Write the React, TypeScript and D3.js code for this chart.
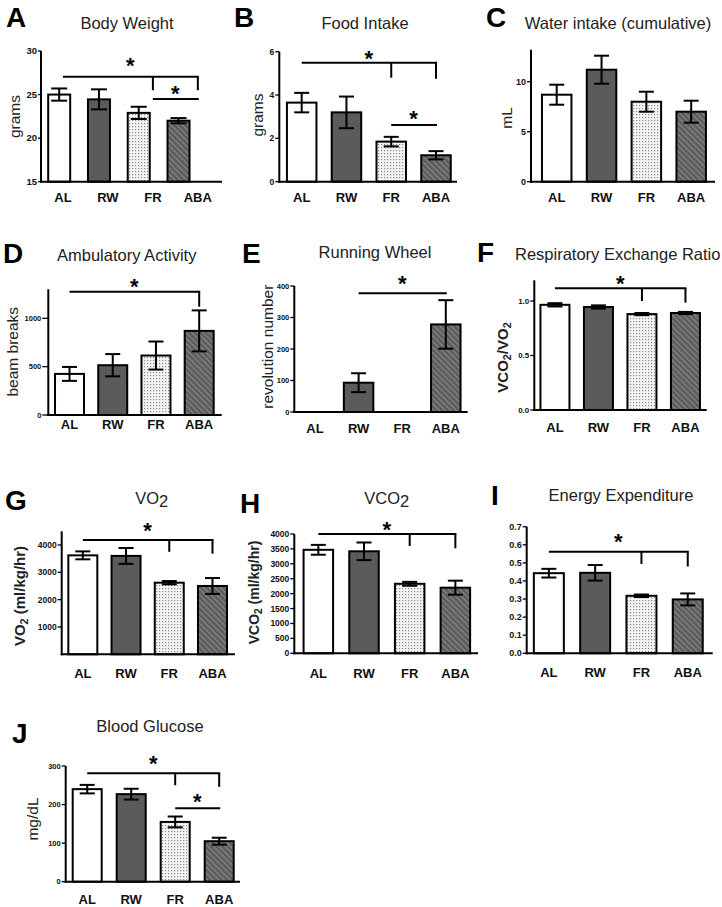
import React from 'react';
import * as d3 from 'd3';

const groups = ['AL', 'RW', 'FR', 'ABA'];

// ---- data (means and SEM) ----
const bodyWeight = [25.0, 24.45, 22.9, 22.0];
const bodyWeightErr = [0.7, 1.15, 0.7, 0.3];
const foodIntake = [3.65, 3.2, 1.85, 1.22];
const foodIntakeErr = [0.45, 0.73, 0.22, 0.19];
const waterIntake = [8.7, 11.2, 8.0, 7.0];
const waterIntakeErr = [1.0, 1.4, 1.0, 1.1];
const ambulatory = [425, 515, 615, 870];
const ambulatoryErr = [72, 115, 145, 212];
const runningWheel = [0, 93, 0, 278];
const runningWheelErr = [0, 30, 0, 77];
const rer = [0.965, 0.945, 0.88, 0.89];
const rerErr = [0.015, 0.015, 0.01, 0.01];
const vo2 = [3620, 3600, 2620, 2500];
const vo2Err = [145, 290, 60, 290];
const vco2 = [3470, 3420, 2330, 2200];
const vco2Err = [165, 295, 65, 235];
const energy = [0.443, 0.445, 0.318, 0.298];
const energyErr = [0.024, 0.043, 0.007, 0.033];
const glucose = [240, 227, 155, 105];
const glucoseErr = [11, 14, 14, 9];

// ---- tick values ----
const ticksA = [15, 20, 25, 30];
const ticksB = [0, 2, 4, 6];
const ticksC = [0, 5, 10];
const ticksD = [0, 500, 1000];
const ticksE = [0, 100, 200, 300, 400];
const ticksF = [0, 0.5, 1.0];
const ticksG = [1000, 2000, 3000, 4000];
const ticksH = [0, 500, 1000, 1500, 2000, 2500, 3000, 3500, 4000];
const ticksI = [0, 0.1, 0.2, 0.3, 0.4, 0.5, 0.6, 0.7];
const ticksJ = [0, 100, 200, 300];

// ---- significance brackets (data units) ----
type Bracket = { from: string; to: string; level: number; drops: { at: string; to: number }[]; star: number };
const sigA: Bracket[] = [
  { from: 'AL', to: 'ABA', level: 27.05, drops: [{ at: 'FR', to: 25.5 }, { at: 'ABA', to: 25.5 }], star: 28.97 },
  { from: 'FR', to: 'ABA', level: 24.5, drops: [], star: 25.72 },
];
const sigB: Bracket[] = [
  { from: 'AL', to: 'ABA', level: 5.49, drops: [{ at: 'FR', to: 4.8 }, { at: 'ABA', to: 4.75 }], star: 5.94 },
  { from: 'FR', to: 'ABA', level: 2.62, drops: [], star: 3.17 },
];
const sigD: Bracket[] = [{ from: 'AL', to: 'ABA', level: 1275, drops: [{ at: 'ABA', to: 1120 }], star: 1378 }];
const sigE: Bracket[] = [{ from: 'RW', to: 'ABA', level: 377, drops: [], star: 425 }];
const sigF: Bracket[] = [
  { from: 'AL', to: 'ABA', level: 1.117, drops: [{ at: 'FR', to: 1.0 }, { at: 'ABA', to: 0.985 }], star: 1.208 },
];
const sigG: Bracket[] = [
  { from: 'AL', to: 'ABA', level: 4182, drops: [{ at: 'FR', to: 3750 }, { at: 'ABA', to: 3680 }], star: 4731 },
];
const sigH: Bracket[] = [
  { from: 'AL', to: 'ABA', level: 4000, drops: [{ at: 'FR', to: 3597 }, { at: 'ABA', to: 3520 }], star: 4335 },
];
const sigI: Bracket[] = [
  { from: 'AL', to: 'ABA', level: 0.5617, drops: [{ at: 'FR', to: 0.494 }, { at: 'ABA', to: 0.48 }], star: 0.648 },
];
const sigJ: Bracket[] = [
  { from: 'AL', to: 'ABA', level: 281, drops: [{ at: 'FR', to: 250 }, { at: 'ABA', to: 246 }], star: 320 },
  { from: 'FR', to: 'ABA', level: 190.3, drops: [], star: 220.4 },
];

const FONT = '"Liberation Sans", Arial, Helvetica, sans-serif';
const fills = ['#ffffff', '#5b5b5b', 'url(#dots)', 'url(#hatch)'];

type Title = { text: string; sub?: string };
type PanelCfg = {
  letter: string; letterPos: [number, number];
  title: Title; titlePos: [number, number];
  axisX: number; xEnd: number;
  yRange: [number, number]; domain: [number, number];
  ticks: number[]; fmt?: string; tickFs: number; tickLen?: number;
  band: [number, number]; labelBand?: [number, number]; barW: number; capW?: number;
  xLabelY: number;
  ylabel?: { text: string; sub?: string; rest?: string; x: number; y: number; fs: number; bold?: boolean };
  values: number[]; errs: number[];
  sig: Bracket[];
};

const panels: PanelCfg[] = [
  {
    letter: 'A', letterPos: [6, 27], title: { text: 'Body Weight' }, titlePos: [127, 29],
    axisX: 41, xEnd: 222, yRange: [181.7, 51], domain: [15, 30], ticks: ticksA, tickFs: 9.5, tickLen: 3,
    band: [39.3, 198.4], labelBand: [40.5, 220.3], barW: 22, capW: 16, xLabelY: 201.5,
    ylabel: { text: 'grams', x: 19.5, y: 116.5, fs: 15.5 },
    values: bodyWeight, errs: bodyWeightErr, sig: sigA,
  },
  {
    letter: 'B', letterPos: [234, 27], title: { text: 'Food Intake' }, titlePos: [365, 29],
    axisX: 279.3, xEnd: 457, yRange: [181.7, 51.7], domain: [0, 6], ticks: ticksB, tickFs: 8.5,
    band: [279.3, 458.4], barW: 29.5, xLabelY: 201.5,
    ylabel: { text: 'grams', x: 263, y: 115, fs: 15.5 },
    values: foodIntake, errs: foodIntakeErr, sig: sigB,
  },
  {
    letter: 'C', letterPos: [486, 27], title: { text: 'Water intake (cumulative)' }, titlePos: [618, 29],
    axisX: 531, xEnd: 715, yRange: [181.7, 49.7], domain: [0, 13.2], ticks: ticksC, tickFs: 9,
    band: [534.3, 713.6], barW: 29.5, xLabelY: 201.5,
    ylabel: { text: 'mL', x: 512, y: 118, fs: 15.5 },
    values: waterIntake, errs: waterIntakeErr, sig: [],
  },
  {
    letter: 'D', letterPos: [3, 263], title: { text: 'Ambulatory Activity' }, titlePos: [126.7, 260.5],
    axisX: 48.3, xEnd: 221.7, yRange: [415, 289.3], domain: [0, 1300], ticks: ticksD, tickFs: 7.5, tickLen: 6,
    band: [47.9, 220.8], barW: 29, xLabelY: 428.5,
    ylabel: { text: 'beam breaks', x: 18, y: 351.7, fs: 15.5 },
    values: ambulatory, errs: ambulatoryErr, sig: sigD,
  },
  {
    letter: 'E', letterPos: [242, 263.3], title: { text: 'Running Wheel' }, titlePos: [375, 258],
    axisX: 294.3, xEnd: 467.7, yRange: [412, 286], domain: [0, 400], ticks: ticksE, tickFs: 7.5,
    band: [293.2, 467.6], barW: 29.5, xLabelY: 433.3,
    ylabel: { text: 'revolution number', x: 273, y: 346.7, fs: 15.5 },
    values: runningWheel, errs: runningWheelErr, sig: sigE,
  },
  {
    letter: 'F', letterPos: [477, 262], title: { text: 'Respiratory Exchange Ratio' }, titlePos: [617.7, 260],
    axisX: 534.3, xEnd: 706.7, yRange: [410, 280.3], domain: [0, 1.19], ticks: ticksF, fmt: '.1f', tickFs: 8,
    band: [533.2, 707.2], barW: 29, xLabelY: 432,
    ylabel: { text: 'VCO', sub: '2', rest: '/VO', x: 508, y: 357.5, fs: 15, bold: true },
    values: rer, errs: rerErr, sig: sigF,
  },
  {
    letter: 'G', letterPos: [5, 510], title: { text: 'VO', sub: '2' }, titlePos: [151.7, 504.3],
    axisX: 61.7, xEnd: 235, yRange: [654.3, 531.3], domain: [0, 4500], ticks: ticksG, tickFs: 8.5,
    band: [61.2, 234.1], barW: 29, xLabelY: 678,
    ylabel: { text: 'VO', sub: '2', rest: ' (ml/kg/hr)', x: 25, y: 596, fs: 15, bold: true },
    values: vo2, errs: vo2Err, sig: sigG,
  },
  {
    letter: 'H', letterPos: [240, 513], title: { text: 'VCO', sub: '2' }, titlePos: [386.7, 504],
    axisX: 294.3, xEnd: 478, yRange: [653.3, 534], domain: [0, 4000], ticks: ticksH, tickFs: 8.5,
    band: [295.5, 478.2], barW: 29.5, xLabelY: 678,
    ylabel: { text: 'VCO', sub: '2', rest: ' (ml/kg/hr)', x: 259, y: 592.5, fs: 14, bold: true },
    values: vco2, errs: vco2Err, sig: sigH,
  },
  {
    letter: 'I', letterPos: [491, 505], title: { text: 'Energy Expenditure' }, titlePos: [621, 500.7],
    axisX: 526.7, xEnd: 712.7, yRange: [653.3, 526.7], domain: [0, 0.7], ticks: ticksI, fmt: '.1f', tickFs: 9,
    band: [525.7, 710.9], barW: 30, xLabelY: 676.5,
    values: energy, errs: energyErr, sig: sigI,
  },
  {
    letter: 'J', letterPos: [12, 743], title: { text: 'Blood Glucose' }, titlePos: [150, 732.3],
    axisX: 65.7, xEnd: 240, yRange: [881.7, 766], domain: [0, 300], ticks: ticksJ, tickFs: 7.5,
    band: [65.2, 241.2], barW: 29, xLabelY: 903.5,
    ylabel: { text: 'mg/dL', x: 37.5, y: 819, fs: 15.5 },
    values: glucose, errs: glucoseErr, sig: sigJ,
  },
];

const SW = 2;

function Panel({ p }: { p: PanelCfg }) {
  const y = d3.scaleLinear().domain(p.domain).range(p.yRange);
  const xb = d3.scaleBand<string>().domain(groups).range(p.band);
  const xl = d3.scaleBand<string>().domain(groups).range(p.labelBand ?? p.band);
  const cb = (g: string) => (xb(g) as number) + xb.bandwidth() / 2;
  const cl = (g: string) => (xl(g) as number) + xl.bandwidth() / 2;
  const fmt = p.fmt ? d3.format(p.fmt) : (v: number) => String(v);
  const tl = p.tickLen ?? 4;
  const capW = p.capW ?? 15;
  const y0 = y(p.domain[0]);
  const starFs = 22;

  return (
    <g>
      <text x={p.letterPos[0]} y={p.letterPos[1]} fontSize={28} fontWeight="bold" fontFamily={FONT} fill="#000">
        {p.letter}
      </text>
      <text x={p.titlePos[0]} y={p.titlePos[1]} fontSize={16.5} fontFamily={FONT} fill="#222" textAnchor="middle">
        {p.title.text}
        {p.title.sub && <tspan dy={3}>{p.title.sub}</tspan>}
      </text>

      {/* bars */}
      {groups.map((g, i) =>
        p.values[i] > 0 ? (
          <rect
            key={'b' + g}
            x={cb(g) - p.barW / 2}
            y={y(p.values[i])}
            width={p.barW}
            height={y0 - y(p.values[i])}
            fill={fills[i]}
            stroke="#000"
            strokeWidth={SW}
          />
        ) : null
      )}
      {/* error bars */}
      {groups.map((g, i) =>
        p.errs[i] > 0 ? (
          <g key={'e' + g} stroke="#000" strokeWidth={SW}>
            <line x1={cb(g)} x2={cb(g)} y1={y(p.values[i] - p.errs[i])} y2={y(p.values[i] + p.errs[i])} />
            <line x1={cb(g) - capW / 2} x2={cb(g) + capW / 2} y1={y(p.values[i] + p.errs[i])} y2={y(p.values[i] + p.errs[i])} />
            <line x1={cb(g) - capW / 2} x2={cb(g) + capW / 2} y1={y(p.values[i] - p.errs[i])} y2={y(p.values[i] - p.errs[i])} />
          </g>
        ) : null
      )}

      {/* axes */}
      <line x1={p.axisX} x2={p.axisX} y1={y0 + SW / 2} y2={y(p.domain[1])} stroke="#000" strokeWidth={SW} />
      <line x1={p.axisX - SW / 2} x2={p.xEnd} y1={y0} y2={y0} stroke="#000" strokeWidth={SW} />
      {p.ticks.map((t) => (
        <g key={'t' + t}>
          <line x1={p.axisX - tl} x2={p.axisX} y1={y(t)} y2={y(t)} stroke="#000" strokeWidth={1.3} />
          <text
            x={p.axisX - tl - 1}
            y={y(t)}
            dy="0.35em"
            fontSize={p.tickFs}
            fontWeight="bold"
            fontFamily={FONT}
            textAnchor="end"
            fill="#111"
          >
            {fmt(t)}
          </text>
        </g>
      ))}
      {groups.map((g) => (
        <text key={'l' + g} x={cl(g)} y={p.xLabelY} fontSize={13} fontWeight="bold" fontFamily={FONT} textAnchor="middle" fill="#111">
          {g}
        </text>
      ))}

      {p.ylabel && (
        <text
          transform={`translate(${p.ylabel.x},${p.ylabel.y}) rotate(-90)`}
          fontSize={p.ylabel.fs}
          fontWeight={p.ylabel.bold ? 'bold' : 'normal'}
          fontFamily={FONT}
          textAnchor="middle"
          fill="#222"
        >
          {p.ylabel.text}
          {p.ylabel.sub && (
            <tspan fontSize={p.ylabel.fs * 0.72} dy={3}>
              {p.ylabel.sub}
            </tspan>
          )}
          {p.ylabel.rest && <tspan dy={-3}>{p.ylabel.rest}</tspan>}
          {p.ylabel.rest && p.ylabel.rest.startsWith('/') && (
            <tspan fontSize={p.ylabel.fs * 0.72} dy={3}>
              2
            </tspan>
          )}
        </text>
      )}

      {/* significance */}
      {p.sig.map((s, k) => {
        const x1 = cl(s.from);
        const x2 = cl(s.to);
        const ly = y(s.level);
        return (
          <g key={'s' + k}>
            <line x1={x1} x2={x2 + SW / 2} y1={ly} y2={ly} stroke="#000" strokeWidth={SW} />
            {s.drops.map((d, j) => (
              <line key={j} x1={cl(d.at)} x2={cl(d.at)} y1={ly} y2={y(d.to)} stroke="#000" strokeWidth={SW} />
            ))}
            <text
              x={(x1 + x2) / 2}
              y={y(s.star) + starFs * 0.575}
              fontSize={starFs}
              fontWeight="bold"
              fontFamily={FONT}
              textAnchor="middle"
              fill="#000"
            >
              *
            </text>
          </g>
        );
      })}
    </g>
  );
}

export default function App() {
  return (
    <svg
      width={722}
      height={907}
      viewBox="0 0 722 907"
      style={{ position: 'absolute', left: 0, top: 0, background: '#fff' }}
    >
      <defs>
        <pattern id="dots" width={3} height={3} patternUnits="userSpaceOnUse">
          <rect width={3} height={3} fill="#f4f4f4" />
          <rect width={1.2} height={1.2} fill="#8a8a8a" />
        </pattern>
        <pattern id="hatch" width={4} height={4} patternUnits="userSpaceOnUse" patternTransform="rotate(-45)">
          <rect width={4} height={4} fill="#5e5e5e" />
          <rect width={1} height={4} fill="#8a8a8a" />
        </pattern>
      </defs>
      <rect width={722} height={907} fill="#fff" />
      {panels.map((p) => (
        <Panel key={p.letter} p={p} />
      ))}
    </svg>
  );
}
